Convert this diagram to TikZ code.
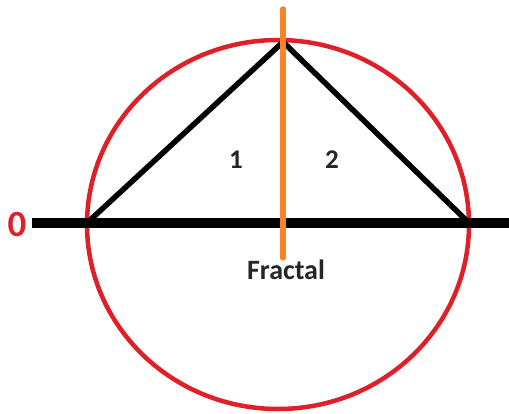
\documentclass[tikz,border=0pt]{standalone}
\usepackage{fontspec}
\setmainfont{Carlito}
\definecolor{cred}{RGB}{222,32,40}
\definecolor{corange}{RGB}{246,132,40}
\begin{document}
\begin{tikzpicture}[x=1pt,y=-1pt,
  lbl/.style={font=\bfseries\fontsize{27}{27}\selectfont, text=black!85, inner sep=0pt},
  vtx/.style={inner sep=0pt, minimum size=0pt}]
\useasboundingbox (0,0) rectangle (509,413);
\fill[white] (0,0) rectangle (509,413);
% circle
\draw[cred, line width=4.5pt] (278,224.5) ellipse [x radius=191, y radius=184.5];
% triangle
\coordinate (A) at (283,42);
\coordinate (L) at (88,222);
\coordinate (R) at (468,222);
\draw[black, line width=5.5pt, line join=round] (L) -- (A) -- (R);
% horizontal axis
\coordinate (H1) at (32,222.5);
\coordinate (H2) at (509,222.5);
\draw[black, line width=10pt] (H1) -- (H2);
% orange vertical
\coordinate (V1) at (283,9);
\coordinate (V2) at (283,258);
\draw[corange, line width=5.5pt, line cap=round] (V1) -- (V2);
% labels
\node[font=\bfseries\fontsize{37}{37}\selectfont, text=cred, inner sep=0pt] (zero) at (17,224) {0};
\node[lbl] (one) at (236,160) {1};
\node[lbl] (two) at (332,160) {2};
\node[lbl, font=\bfseries\fontsize{28}{28}\selectfont] (frac) at (286,270) {Fractal};
\end{tikzpicture}
\end{document}
